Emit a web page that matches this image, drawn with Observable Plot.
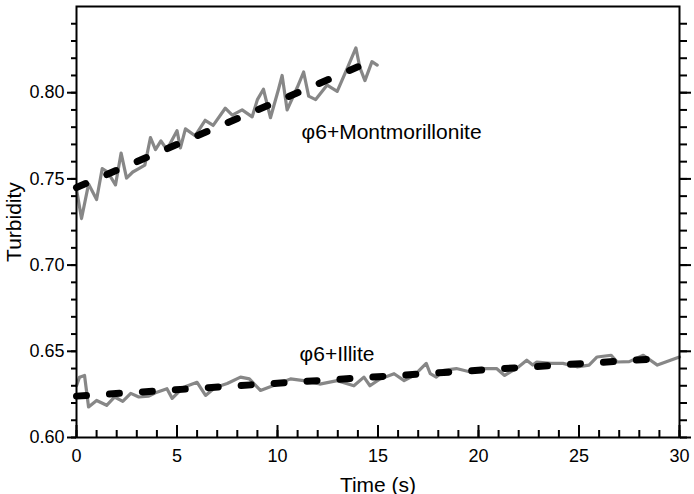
<!DOCTYPE html>
<html><head><meta charset="utf-8">
<script src="https://cdn.jsdelivr.net/npm/d3@7"></script>
<script src="https://cdn.jsdelivr.net/npm/@observablehq/plot@0.6"></script>
<style>
body{margin:0;background:#fff;} #chart{width:694px;height:494px;}
#chart svg text {font-size:18px !important; font-family:'Liberation Sans', Arial, sans-serif !important;}
#chart svg g[aria-label="y-axis label"] text, #chart svg g[aria-label="x-axis label"] text, #chart svg g[aria-label="text"] text {font-size:21px !important;}
</style>
</head><body><div id="chart"></div>
<script>
// Raw turbidity, φ6+Montmorillonite (time s, turbidity)
const montTime = [0,0.25,0.6,1.0,1.28,1.55,1.94,2.22,2.49,2.8,3.1,3.4,3.68,3.93,4.2,4.5,5.0,5.17,5.42,5.9,6.4,6.8,7.4,7.75,8.24,8.74,9.0,9.3,9.65,10.05,10.23,10.48,10.98,11.3,11.55,11.9,12.47,12.97,13.5,13.9,14.1,14.35,14.7,14.96];
const montRaw  = [0.744,0.727,0.747,0.738,0.756,0.754,0.7465,0.765,0.7505,0.754,0.756,0.758,0.774,0.767,0.772,0.767,0.778,0.768,0.779,0.775,0.784,0.781,0.791,0.787,0.790,0.786,0.796,0.802,0.7855,0.802,0.810,0.790,0.803,0.812,0.798,0.796,0.8044,0.8008,0.815,0.826,0.8145,0.807,0.818,0.816];
// Raw turbidity, φ6+Illite
const illTime = [0,0.15,0.4,0.6,1.0,1.5,1.9,2.3,2.7,3.1,3.6,4.0,4.5,4.76,5.3,6.0,6.42,6.9,7.5,8.16,8.6,9.15,10.0,10.65,11.3,12.1,12.97,13.8,14.3,14.6,15.1,15.8,16.3,16.8,17.4,17.6,17.9,18.27,18.9,19.6,20.2,20.9,21.3,22.0,22.4,22.7,22.9,23.6,24.2,24.9,25.5,25.9,26.6,26.9,27.5,28.2,28.9,29.55,30];
const illRaw  = [0.630,0.635,0.636,0.6177,0.6215,0.6187,0.6235,0.621,0.6256,0.6235,0.624,0.6263,0.6283,0.6227,0.629,0.632,0.6244,0.629,0.6313,0.635,0.634,0.6273,0.631,0.634,0.633,0.631,0.633,0.630,0.635,0.630,0.634,0.637,0.633,0.636,0.643,0.637,0.635,0.639,0.640,0.638,0.640,0.640,0.636,0.641,0.6448,0.642,0.6438,0.643,0.643,0.641,0.642,0.6467,0.6477,0.6438,0.644,0.6477,0.642,0.6448,0.6467];
// Linear fits (endpoints)
const montFitTime = [0, 14];
const montFit = [0.745, 0.815];
const illFitTime = [0, 29.3];
const illFit = [0.624, 0.646];
// Labels
const labelNames = ["φ6+Montmorillonite", "φ6+Illite"];
const labelTime = [11.2, 11.1];
const labelValue = [0.777, 0.6485];
// Ticks
const xMajor = [0,5,10,15,20,25,30];
const xMinor = d3.range(0,31,1);
const yMajor = [0.60,0.65,0.70,0.75,0.80];
const yMinor = d3.range(0,25).map(i => +(0.60 + i*0.01).toFixed(2));

const zip = (a,b) => a.map((t,i)=>({t, v:b[i]}));
const font = "'Liberation Sans', Arial, Helvetica, sans-serif";

const chart = Plot.plot({
  width: 694, height: 494,
  marginLeft: 76, marginRight: 15, marginTop: 6, marginBottom: 57,
  style: {fontFamily: font, fontSize: "18px", color: "black", background: "white"},
  x: {domain: [0,30]},
  y: {domain: [0.60,0.85]},
  marks: [
    Plot.line(zip(montTime, montRaw), {x:"t", y:"v", stroke:"#878787", strokeWidth:3.2}),
    Plot.line(zip(illTime, illRaw), {x:"t", y:"v", stroke:"#878787", strokeWidth:3.2}),
    Plot.line(zip(montFitTime, montFit), {x:"t", y:"v", stroke:"black", strokeWidth:7, strokeDasharray:"10,23", strokeLinecap:"round"}),
    Plot.line(zip(illFitTime, illFit), {x:"t", y:"v", stroke:"black", strokeWidth:7, strokeDasharray:"10,23", strokeLinecap:"round"}),
    Plot.text(labelNames.map((n,i)=>({n, t:labelTime[i], v:labelValue[i]})), {x:"t", y:"v", text:"n", textAnchor:"start", fontSize:21, fill:"black"}),
    // left axis (outward ticks)
    Plot.axisY({ticks: yMinor, tickSize: 5, text: null, strokeWidth: 2, label: null}),
    Plot.axisY({ticks: yMajor, tickSize: 9, tickPadding: 3, tickFormat: ".2f", strokeWidth: 2, fontSize: 18,
      label: "Turbidity", labelAnchor: "center", labelArrow: "none", labelOffset: 70}),
    // right axis (outward ticks)
    Plot.axisY({anchor: "right", ticks: yMinor, tickSize: 7, text: null, strokeWidth: 2, label: null}),
    Plot.axisY({anchor: "right", ticks: yMajor, tickSize: 11, text: null, strokeWidth: 2, label: null}),
    // bottom axis (inward ticks)
    Plot.axisX({ticks: xMinor, tickSize: -7, text: null, strokeWidth: 2, label: null}),
    Plot.axisX({ticks: xMajor, tickSize: -12, text: null, strokeWidth: 2, label: null}),
    Plot.axisX({ticks: xMajor, tickSize: 0, tickPadding: 12, fontSize: 18,
      label: "Time (s)", labelAnchor: "center", labelArrow: "none", labelOffset: 54}),
    Plot.frame({stroke: "black", strokeWidth: 2})
  ]
});
document.getElementById("chart").appendChild(chart);
</script></body></html>
